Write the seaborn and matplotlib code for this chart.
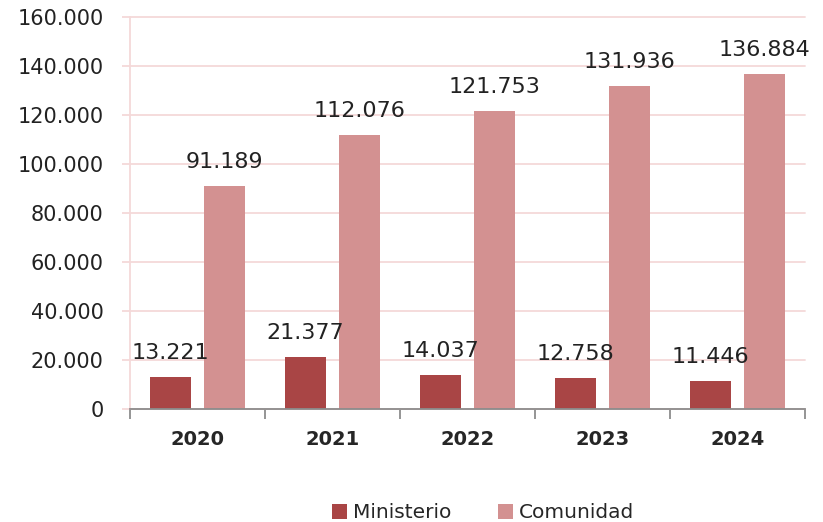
import pandas as pd
import seaborn as sns
import matplotlib.pyplot as plt
from matplotlib.ticker import FuncFormatter, FixedLocator

years = ['2020', '2021', '2022', '2023', '2024']
ministerio = [13221, 21377, 14037, 12758, 11446]
comunidad = [91189, 112076, 121753, 131936, 136884]
series = ['Ministerio', 'Comunidad']
colores = ['#A94545', '#D39191']

df = pd.DataFrame({
    'year': years * 2,
    'valor': ministerio + comunidad,
    'serie': [series[0]] * len(years) + [series[1]] * len(years),
})

sns.set_style('white')
plt.rcParams['font.family'] = ['DejaVu Sans']

fig = plt.figure(figsize=(8.23, 5.22), dpi=100)
ax = fig.add_axes([0.158, 0.216, 0.82, 0.751])

sns.barplot(data=df, x='year', y='valor', hue='serie', palette=colores,
            saturation=1, width=0.8, gap=0.25, linewidth=0, ax=ax, legend=True)

def miles(v):
    return f'{int(round(v)):,}'.replace(',', '.')

for cont in ax.containers:
    ax.bar_label(cont, labels=[miles(b.get_height()) for b in cont],
                 padding=10, fontsize=16, color='#222222')

ax.set_ylim(0, 160000)
ax.set_yticks(range(0, 160001, 20000))
ax.yaxis.set_major_formatter(FuncFormatter(lambda v, p: miles(v)))
ax.grid(axis='y', color='#F4D9D9', linewidth=1.3, clip_on=False)
ax.set_axisbelow(True)
ax.tick_params(axis='y', labelsize=15, length=6, color='#F4D9D9', width=1.3,
               labelcolor='#222222', left=True, pad=13)

ax.set_xlim(-0.5, 4.5)
ax.xaxis.set_minor_locator(FixedLocator([i - 0.5 for i in range(6)]))
ax.tick_params(axis='x', which='major', length=0, labelsize=14, pad=15)
ax.tick_params(axis='x', which='minor', length=7, color='#8C8C8C', width=1.3,
               bottom=True)
for t in ax.get_xticklabels():
    t.set_fontweight('bold')

for s in ['top', 'right']:
    ax.spines[s].set_visible(False)
ax.spines['left'].set_color('#F4D9D9')
ax.spines['left'].set_linewidth(1.3)
ax.spines['bottom'].set_color('#8C8C8C')
ax.spines['bottom'].set_linewidth(1.3)

ax.set_xlabel('')
ax.set_ylabel('')
handles, labels = ax.get_legend_handles_labels()
ax.get_legend().remove()
fig.legend(handles, labels, loc='center', bbox_to_anchor=(483 / 823, 1 - 513 / 522),
           ncol=2, frameon=False, fontsize=14.5, handlelength=0.75,
           handleheight=0.75, columnspacing=2.3, handletextpad=0.3)

fig.savefig('out.png', dpi=100)
